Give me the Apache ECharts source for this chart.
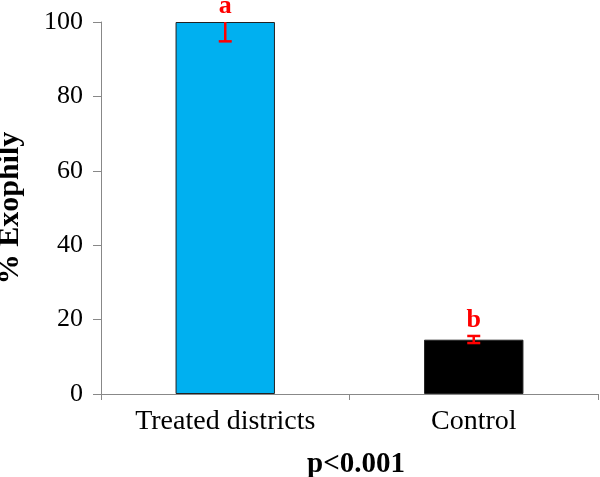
<!DOCTYPE html>
<html lang="en">
<head>
	<meta charset="UTF-8">
	<title>% Exophily</title>
	<script src="https://cdn.jsdelivr.net/npm/echarts@6/dist/echarts.min.js"></script>
</head>
<body style="margin:0;background:#fff;">
	<div id="main" style="width: 600px;height: 477px;"></div>

	<script>
		var categories = ['Treated districts', 'Control'];
		var values = [100, 14.6];
		var errLow = [94.8, 13.7];
		var errHigh = [100, 15.6];
		var letters = ['a', 'b'];
		var barColors = ['#00B0F0', '#000000'];

		var chartDom = document.getElementById('main');
		var myChart = echarts.init(chartDom);
		var serif = '"Liberation Serif", "Times New Roman", serif';

		var option = {
			animation: false,
			grid: { left: 101, right: 2, top: 22, bottom: 83, outerBoundsMode: 'none' },
			title: {
				text: 'p<0.001',
				left: 351,
				top: 445,
				textAlign: 'center',
				textStyle: { fontFamily: serif, fontSize: 29, fontWeight: 'bold', color: '#000' }
			},
			xAxis: {
				type: 'category',
				data: categories,
				axisLine: { lineStyle: { color: '#888', width: 1 } },
				axisTick: { show: true, length: 6, inside: false, lineStyle: { color: '#888' } },
				axisLabel: { fontFamily: serif, fontSize: 28, color: '#000', margin: 14 }
			},
			yAxis: {
				type: 'value',
				min: 0,
				max: 100,
				interval: 20,
				name: '% Exophily',
				nameLocation: 'middle',
				nameRotate: 90,
				nameGap: 76,
				nameTextStyle: { fontFamily: serif, fontSize: 30, fontWeight: 'bold', color: '#000' },
				splitLine: { show: false },
				axisLine: { show: true, lineStyle: { color: '#888', width: 1 } },
				axisTick: { show: true, length: 8, lineStyle: { color: '#888' } },
				axisLabel: { fontFamily: serif, fontSize: 26, color: '#000', margin: 18 }
			},
			series: [
				{
					type: 'bar',
					barWidth: '40%',
					data: values.map(function (v, i) {
						return { value: v, itemStyle: { color: barColors[i], borderColor: '#222', borderWidth: 1 } };
					})
				},
				{
					type: 'custom',
					data: values.map(function (v, i) { return [i, errLow[i], errHigh[i]]; }),
					renderItem: function (params, api) {
						var lo = api.coord([api.value(0), api.value(1)]);
						var hi = api.coord([api.value(0), api.value(2)]);
						var half = 6.5;
						var style = { stroke: '#FF0000', lineWidth: 2.5 };
						var idx = params.dataIndex;
						return {
							type: 'group',
							children: [
								{ type: 'line', shape: { x1: lo[0], y1: lo[1], x2: hi[0], y2: hi[1] }, style: style },
								{ type: 'line', shape: { x1: lo[0] - half, y1: lo[1], x2: lo[0] + half, y2: lo[1] }, style: style },
								{ type: 'line', shape: { x1: hi[0] - half, y1: hi[1], x2: hi[0] + half, y2: hi[1] }, style: idx === 0 ? { stroke: 'none' } : style },
								{
									type: 'text',
									style: {
										x: hi[0], y: hi[1] - 16,
										text: letters[idx],
										fill: '#FF0000',
										font: 'bold 26px ' + serif,
										align: 'center',
										verticalAlign: 'middle'
									}
								}
							]
						};
					},
					z: 5
				}
			]
		};

		myChart.setOption(option);
	</script>
</body>
</html>
